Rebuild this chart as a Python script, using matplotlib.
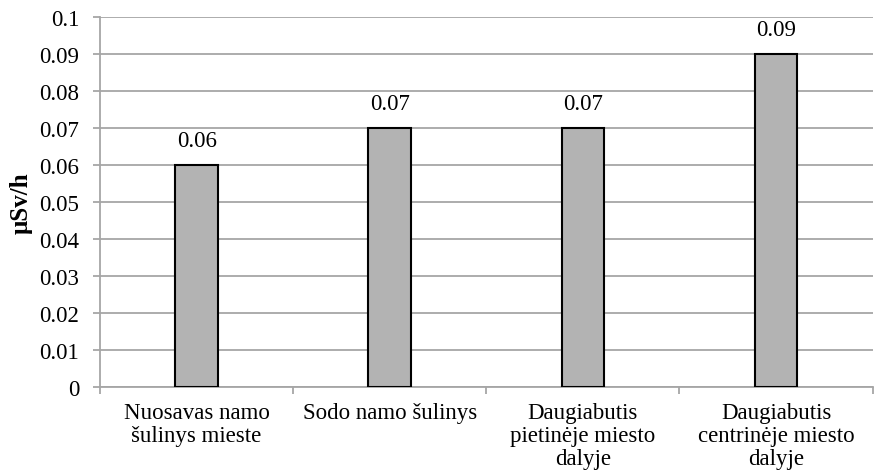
import matplotlib
matplotlib.use("Agg")
import matplotlib.pyplot as plt
from matplotlib.ticker import MultipleLocator, FuncFormatter

plt.rcParams["font.family"] = ["Liberation Serif", "DejaVu Serif"]

categories = [
    "Nuosavas namo\nšulinys mieste",
    "Sodo namo šulinys",
    "Daugiabutis\npietinėje miesto\ndalyje",
    "Daugiabutis\ncentrinėje miesto\ndalyje",
]
values = [0.06, 0.07, 0.07, 0.09]
value_labels = ["0.06", "0.07", "0.07", "0.09"]

GRID = "#a6a6a6"
FS = 16.5

fig = plt.figure(figsize=(8.74, 4.77), dpi=100)
ax = fig.add_axes([0.1144, 0.1866, 0.884, 0.7757])

x = list(range(len(categories)))
bars = ax.bar(x, values, width=0.22, color="#b3b3b3", edgecolor="black",
              linewidth=1.5, zorder=3)
for b, lab in zip(bars, value_labels):
    ax.annotate(lab, (b.get_x() + b.get_width() / 2, b.get_height()),
                xytext=(0, 10), textcoords="offset points",
                ha="center", va="bottom", fontsize=FS)

ax.set_xlim(-0.5, len(categories) - 0.5)
ax.set_ylim(0, 0.1)
ax.yaxis.set_major_locator(MultipleLocator(0.01))
ax.yaxis.set_major_formatter(FuncFormatter(lambda v, _: "0" if abs(v) < 1e-9 else f"{v:.2f}".rstrip("0")))
ax.grid(axis="y", color=GRID, linewidth=1.3, zorder=0)

# category labels sit between boundary ticks
ax.set_xticks([i + 0.5 for i in range(-1, len(categories))])
ax.set_xticklabels([])
ax.set_xticks(x, minor=True)
ax.set_xticklabels(categories, minor=True, fontsize=FS, linespacing=1.12)
ax.tick_params(axis="x", which="minor", length=0, pad=11)
ax.tick_params(axis="x", which="major", length=5, color=GRID, width=1.3)
ax.tick_params(axis="y", length=5, color=GRID, width=1.3, labelsize=FS, pad=10)

for side in ("top", "right"):
    ax.spines[side].set_visible(False)
for side in ("left", "bottom"):
    ax.spines[side].set_color(GRID)
    ax.spines[side].set_linewidth(1.3)

ax.set_ylabel("μSv/h", fontsize=18, fontweight="bold")
ax.yaxis.set_label_coords(-0.087, 0.5)

fig.savefig("out.png", dpi=100)
